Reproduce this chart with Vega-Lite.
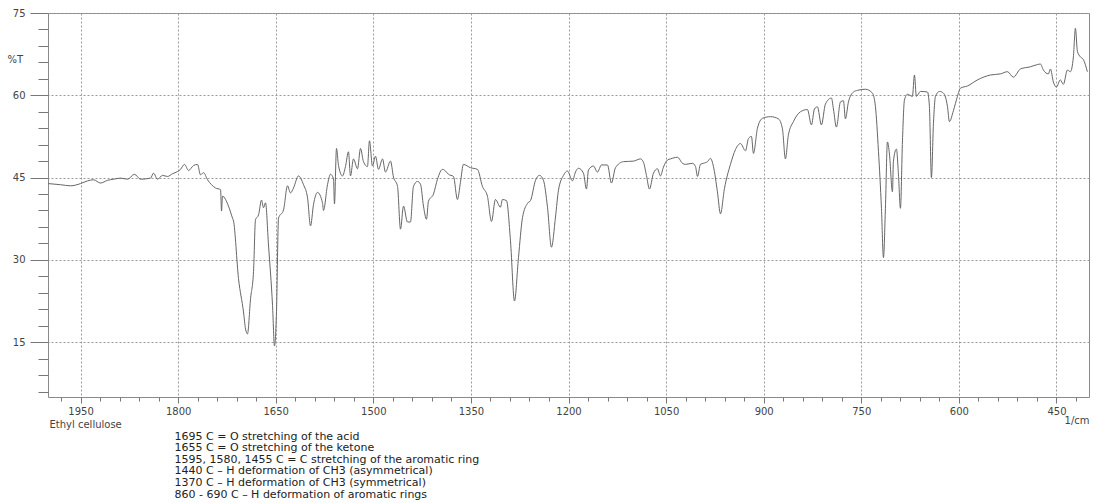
{
  "$schema": "https://vega.github.io/schema/vega-lite/v6.json",
  "width": 1041,
  "height": 384,
  "autosize": "none",
  "padding": {"left": 48, "top": 13, "right": 4, "bottom": 106},
  "background": "white",
  "config": {
    "font": "DejaVu Sans",
    "view": {"stroke": "#8a8a8a", "strokeWidth": 1},
    "axis": {"labelFont": "DejaVu Sans", "titleFont": "DejaVu Sans", "tickColor": "#777", "labelColor": "#444", "titleColor": "#444", "titleFontWeight": "normal"}
  },
  "data": {"values": [
    {"wn": 1999.5, "T": 43.9}, {"wn": 1980.7, "T": 43.7}, {"wn": 1965.4, "T": 43.5}, {"wn": 1950.0, "T": 43.9},
    {"wn": 1939.2, "T": 44.4}, {"wn": 1930.0, "T": 44.6}, {"wn": 1919.3, "T": 44.0}, {"wn": 1908.5, "T": 44.5},
    {"wn": 1899.3, "T": 44.7}, {"wn": 1888.6, "T": 44.9}, {"wn": 1877.8, "T": 44.7}, {"wn": 1867.1, "T": 45.6},
    {"wn": 1857.8, "T": 44.7}, {"wn": 1842.4, "T": 44.9}, {"wn": 1837.8, "T": 45.8}, {"wn": 1831.7, "T": 44.7},
    {"wn": 1824.0, "T": 45.4}, {"wn": 1816.3, "T": 45.2}, {"wn": 1808.6, "T": 45.7}, {"wn": 1800.9, "T": 46.1},
    {"wn": 1796.3, "T": 46.5}, {"wn": 1790.2, "T": 47.4}, {"wn": 1784.0, "T": 46.3}, {"wn": 1776.3, "T": 47.2},
    {"wn": 1770.2, "T": 47.4}, {"wn": 1765.6, "T": 45.5}, {"wn": 1761.0, "T": 45.9}, {"wn": 1754.8, "T": 44.6},
    {"wn": 1748.7, "T": 43.7}, {"wn": 1742.5, "T": 43.1}, {"wn": 1734.8, "T": 42.8}, {"wn": 1733.3, "T": 38.9},
    {"wn": 1731.8, "T": 41.6}, {"wn": 1722.6, "T": 39.8}, {"wn": 1716.4, "T": 37.6}, {"wn": 1714.9, "T": 37.1},
    {"wn": 1707.2, "T": 26.6}, {"wn": 1699.5, "T": 20.5}, {"wn": 1696.4, "T": 17.4}, {"wn": 1693.4, "T": 16.5},
    {"wn": 1688.7, "T": 22.9}, {"wn": 1684.1, "T": 27.9}, {"wn": 1681.1, "T": 37.3}, {"wn": 1676.4, "T": 38.2},
    {"wn": 1671.8, "T": 40.9}, {"wn": 1668.8, "T": 39.5}, {"wn": 1665.7, "T": 40.4}, {"wn": 1661.1, "T": 32.7},
    {"wn": 1654.9, "T": 21.7}, {"wn": 1651.9, "T": 14.3}, {"wn": 1648.8, "T": 20.6}, {"wn": 1645.7, "T": 37.6},
    {"wn": 1638.0, "T": 39.1}, {"wn": 1631.9, "T": 43.5}, {"wn": 1627.3, "T": 42.2}, {"wn": 1622.7, "T": 43.1},
    {"wn": 1615.0, "T": 45.3}, {"wn": 1607.3, "T": 43.7}, {"wn": 1601.1, "T": 41.3}, {"wn": 1596.5, "T": 36.2},
    {"wn": 1591.9, "T": 40.1}, {"wn": 1585.8, "T": 42.3}, {"wn": 1578.1, "T": 40.4}, {"wn": 1576.6, "T": 39.0},
    {"wn": 1570.4, "T": 43.7}, {"wn": 1565.8, "T": 45.6}, {"wn": 1561.2, "T": 44.8}, {"wn": 1559.7, "T": 40.2},
    {"wn": 1556.6, "T": 50.3}, {"wn": 1553.5, "T": 47.2}, {"wn": 1547.4, "T": 45.3}, {"wn": 1542.8, "T": 47.0},
    {"wn": 1538.2, "T": 49.7}, {"wn": 1535.1, "T": 45.3}, {"wn": 1530.5, "T": 48.4}, {"wn": 1524.3, "T": 46.6},
    {"wn": 1519.7, "T": 50.3}, {"wn": 1515.1, "T": 47.9}, {"wn": 1509.0, "T": 47.0}, {"wn": 1505.9, "T": 51.7},
    {"wn": 1501.3, "T": 47.1}, {"wn": 1496.7, "T": 48.9}, {"wn": 1492.0, "T": 46.5}, {"wn": 1485.9, "T": 48.4},
    {"wn": 1481.3, "T": 46.0}, {"wn": 1473.6, "T": 48.0}, {"wn": 1469.0, "T": 45.1}, {"wn": 1462.8, "T": 43.4},
    {"wn": 1458.2, "T": 35.6}, {"wn": 1453.6, "T": 39.8}, {"wn": 1447.5, "T": 36.9}, {"wn": 1442.9, "T": 36.9},
    {"wn": 1438.3, "T": 43.4}, {"wn": 1432.1, "T": 44.3}, {"wn": 1427.5, "T": 43.8}, {"wn": 1422.9, "T": 39.8},
    {"wn": 1418.3, "T": 37.4}, {"wn": 1415.2, "T": 40.7}, {"wn": 1407.5, "T": 42.0}, {"wn": 1401.4, "T": 44.7},
    {"wn": 1393.7, "T": 46.5}, {"wn": 1389.1, "T": 46.2}, {"wn": 1384.5, "T": 45.6}, {"wn": 1376.8, "T": 45.2},
    {"wn": 1370.7, "T": 41.0}, {"wn": 1366.1, "T": 44.1}, {"wn": 1361.5, "T": 47.4}, {"wn": 1350.7, "T": 46.8},
    {"wn": 1340.0, "T": 46.5}, {"wn": 1332.3, "T": 43.4}, {"wn": 1324.6, "T": 41.6}, {"wn": 1318.4, "T": 37.0},
    {"wn": 1312.3, "T": 41.0}, {"wn": 1304.6, "T": 39.6}, {"wn": 1301.5, "T": 41.0}, {"wn": 1295.3, "T": 40.8},
    {"wn": 1289.2, "T": 33.5}, {"wn": 1283.0, "T": 22.5}, {"wn": 1276.9, "T": 30.4}, {"wn": 1270.7, "T": 37.7},
    {"wn": 1263.0, "T": 40.3}, {"wn": 1258.4, "T": 40.8}, {"wn": 1250.7, "T": 44.5}, {"wn": 1244.6, "T": 45.4},
    {"wn": 1238.5, "T": 44.5}, {"wn": 1232.3, "T": 39.6}, {"wn": 1226.2, "T": 32.3}, {"wn": 1220.0, "T": 37.8},
    {"wn": 1215.4, "T": 42.7}, {"wn": 1207.7, "T": 45.4}, {"wn": 1201.6, "T": 46.2}, {"wn": 1193.9, "T": 44.4},
    {"wn": 1189.3, "T": 46.0}, {"wn": 1184.7, "T": 46.7}, {"wn": 1177.0, "T": 45.8}, {"wn": 1172.4, "T": 42.9},
    {"wn": 1169.3, "T": 46.4}, {"wn": 1161.6, "T": 47.1}, {"wn": 1155.5, "T": 46.0}, {"wn": 1149.3, "T": 47.3},
    {"wn": 1140.1, "T": 47.3}, {"wn": 1134.0, "T": 44.0}, {"wn": 1127.8, "T": 46.8}, {"wn": 1115.5, "T": 47.9},
    {"wn": 1100.1, "T": 48.0}, {"wn": 1089.4, "T": 48.4}, {"wn": 1084.8, "T": 47.8}, {"wn": 1080.2, "T": 45.4},
    {"wn": 1075.6, "T": 42.9}, {"wn": 1069.4, "T": 45.8}, {"wn": 1063.3, "T": 46.6}, {"wn": 1058.7, "T": 45.3},
    {"wn": 1054.1, "T": 46.9}, {"wn": 1047.9, "T": 48.2}, {"wn": 1043.3, "T": 48.4}, {"wn": 1032.5, "T": 48.7},
    {"wn": 1024.8, "T": 47.6}, {"wn": 1020.2, "T": 47.4}, {"wn": 1009.4, "T": 47.6}, {"wn": 1004.8, "T": 47.0},
    {"wn": 1001.7, "T": 45.2}, {"wn": 997.2, "T": 47.4}, {"wn": 992.6, "T": 47.6}, {"wn": 986.4, "T": 47.9},
    {"wn": 981.8, "T": 48.5}, {"wn": 977.2, "T": 47.0}, {"wn": 971.1, "T": 42.4}, {"wn": 966.4, "T": 38.4},
    {"wn": 960.3, "T": 43.0}, {"wn": 951.1, "T": 47.4}, {"wn": 943.4, "T": 50.1}, {"wn": 935.7, "T": 51.2},
    {"wn": 928.0, "T": 49.9}, {"wn": 923.4, "T": 52.1}, {"wn": 918.8, "T": 52.5}, {"wn": 915.7, "T": 49.4},
    {"wn": 909.6, "T": 54.0}, {"wn": 901.9, "T": 55.8}, {"wn": 889.6, "T": 56.1}, {"wn": 877.3, "T": 55.7},
    {"wn": 871.2, "T": 53.9}, {"wn": 866.6, "T": 48.4}, {"wn": 862.0, "T": 52.8}, {"wn": 854.3, "T": 55.2},
    {"wn": 843.5, "T": 57.0}, {"wn": 832.8, "T": 57.4}, {"wn": 826.6, "T": 54.6}, {"wn": 822.0, "T": 57.5},
    {"wn": 817.4, "T": 57.9}, {"wn": 811.3, "T": 54.6}, {"wn": 805.1, "T": 58.4}, {"wn": 795.9, "T": 59.5},
    {"wn": 792.8, "T": 57.5}, {"wn": 788.2, "T": 54.2}, {"wn": 782.0, "T": 58.8}, {"wn": 777.4, "T": 59.0},
    {"wn": 774.4, "T": 55.7}, {"wn": 769.7, "T": 58.8}, {"wn": 762.0, "T": 60.6}, {"wn": 755.9, "T": 60.9},
    {"wn": 743.6, "T": 61.1}, {"wn": 732.9, "T": 60.4}, {"wn": 728.3, "T": 58.0}, {"wn": 723.6, "T": 49.8},
    {"wn": 719.0, "T": 39.4}, {"wn": 715.9, "T": 30.4}, {"wn": 712.9, "T": 39.4}, {"wn": 709.8, "T": 51.5},
    {"wn": 706.7, "T": 49.3}, {"wn": 702.1, "T": 42.4}, {"wn": 700.6, "T": 48.0}, {"wn": 696.0, "T": 50.2},
    {"wn": 692.9, "T": 45.6}, {"wn": 689.8, "T": 39.4}, {"wn": 686.7, "T": 51.7}, {"wn": 683.7, "T": 59.1},
    {"wn": 679.1, "T": 60.2}, {"wn": 671.4, "T": 59.8}, {"wn": 668.3, "T": 63.7}, {"wn": 665.3, "T": 59.8},
    {"wn": 659.1, "T": 60.7}, {"wn": 648.3, "T": 60.6}, {"wn": 645.3, "T": 58.0}, {"wn": 642.2, "T": 45.0},
    {"wn": 639.1, "T": 54.8}, {"wn": 636.0, "T": 59.8}, {"wn": 629.9, "T": 60.7}, {"wn": 623.8, "T": 60.4},
    {"wn": 617.6, "T": 58.0}, {"wn": 614.5, "T": 55.2}, {"wn": 608.4, "T": 57.2}, {"wn": 602.2, "T": 59.8},
    {"wn": 597.6, "T": 61.3}, {"wn": 586.8, "T": 61.7}, {"wn": 571.5, "T": 62.8}, {"wn": 551.5, "T": 63.7},
    {"wn": 536.1, "T": 63.9}, {"wn": 525.4, "T": 64.3}, {"wn": 516.2, "T": 63.3}, {"wn": 505.4, "T": 64.8},
    {"wn": 490.0, "T": 65.2}, {"wn": 479.3, "T": 65.6}, {"wn": 474.7, "T": 65.7}, {"wn": 470.1, "T": 64.6},
    {"wn": 462.4, "T": 63.9}, {"wn": 459.3, "T": 64.8}, {"wn": 454.7, "T": 62.4}, {"wn": 450.1, "T": 61.5},
    {"wn": 444.0, "T": 62.8}, {"wn": 439.4, "T": 62.0}, {"wn": 433.2, "T": 64.6}, {"wn": 428.6, "T": 64.3},
    {"wn": 424.0, "T": 67.0}, {"wn": 420.9, "T": 72.2}, {"wn": 417.8, "T": 68.0}, {"wn": 413.2, "T": 67.0},
    {"wn": 408.6, "T": 66.5}, {"wn": 402.5, "T": 64.3}
  ]},
  "layer": [
    {
      "mark": {"type": "line", "stroke": "#666", "strokeWidth": 1, "clip": true, "interpolate": "monotone"},
      "encoding": {
        "x": {
          "field": "wn", "type": "quantitative",
          "scale": {"domain": [400, 2000], "reverse": true, "nice": false, "zero": false},
          "axis": {
            "orient": "bottom", "format": "d",
            "values": [1950, 1800, 1650, 1500, 1350, 1200, 1050, 900, 750, 600, 450],
            "domain": false, "tickSize": 6, "labelPadding": 3, "labelFontSize": 10,
            "grid": true, "gridColor": "#9a9a9a", "gridDash": [2, 2], "gridWidth": 1,
            "title": ["1695 C = O stretching of the acid", "1655 C = O stretching of the ketone", "1595, 1580, 1455 C = C stretching of the aromatic ring", "1440 C \u2013 H deformation of CH3 (asymmetrical)", "1370 C \u2013 H deformation of CH3 (symmetrical)", "860 - 690 C \u2013 H deformation of aromatic rings"],
            "titleFontSize": 11, "titleLineHeight": 11.6, "titleAnchor": "start", "titleAlign": "left",
            "titleBaseline": "top", "titleX": 126, "titleY": 33, "titleColor": "#222"
          }
        },
        "y": {
          "field": "T", "type": "quantitative",
          "scale": {"domain": [5, 75], "nice": false, "zero": false},
          "axis": {
            "orient": "left", "format": "d",
            "values": [15, 30, 45, 60, 75],
            "domain": false, "tickSize": 18, "labelPadding": 5, "labelFontSize": 10,
            "grid": true, "gridColor": "#9a9a9a", "gridDash": [2, 2], "gridWidth": 1,
            "title": "%T", "titleAngle": 0, "titleFontSize": 10, "titleAlign": "left",
            "titleBaseline": "top", "titleX": -41, "titleY": 41
          }
        }
      }
    },
    {
      "mark": {"type": "point", "opacity": 0},
      "encoding": {
        "x": {
          "field": "wn", "type": "quantitative",
          "axis": {
            "orient": "bottom",
            "values": [1980, 1920, 1890, 1860, 1830, 1770, 1740, 1710, 1680, 1620, 1590, 1560, 1530, 1470, 1440, 1410, 1380, 1320, 1290, 1260, 1230, 1170, 1140, 1110, 1080, 1020, 990, 960, 930, 870, 840, 810, 780, 720, 690, 660, 630, 570, 540, 510, 480, 420],
            "domain": false, "labels": false, "grid": false, "tickSize": 4,
            "title": "1/cm", "titleFontSize": 10, "titleAnchor": "end", "titleAlign": "right",
            "titleBaseline": "top", "titleX": 1041, "titleY": 18
          }
        },
        "y": {
          "field": "T", "type": "quantitative",
          "axis": {
            "orient": "left",
            "values": [6, 9, 12, 18, 21, 24, 27, 33, 36, 39, 42, 48, 51, 54, 57, 63, 66, 69, 72],
            "domain": false, "labels": false, "grid": false, "tickSize": 10,
            "title": "Ethyl cellulose", "titleAngle": 0, "titleFontSize": 10, "titleAlign": "left",
            "titleBaseline": "top", "titleX": 1, "titleY": 406
          }
        }
      }
    }
  ],
  "resolve": {"axis": {"x": "independent", "y": "independent"}}
}
